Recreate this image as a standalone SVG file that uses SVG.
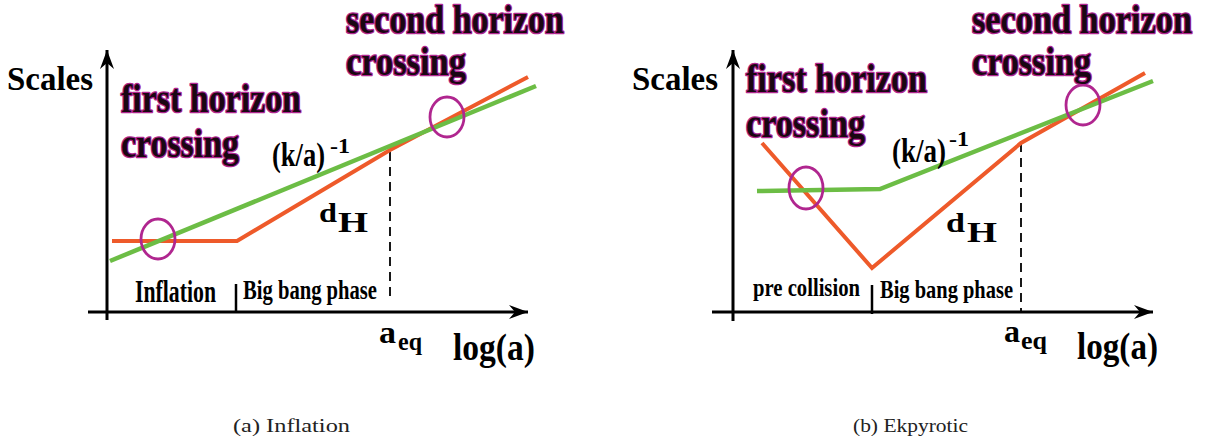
<svg xmlns="http://www.w3.org/2000/svg" width="1207" height="443" viewBox="0 0 1207 443">
<style>
.ax{stroke:#000;stroke-width:3;fill:none}
.tk{stroke:#000;stroke-width:2.5;fill:none}
.dash{stroke:#000;stroke-width:1.8;stroke-dasharray:9 6;fill:none}
.or{stroke:#ee5a2a;stroke-width:4;fill:none;stroke-linejoin:miter}
.gr{stroke:#6cbd45;stroke-width:4.5;fill:none}
.ring{stroke:#b0268f;stroke-width:2.8;fill:none}
.t{font-weight:bold;fill:#000}
.hz{font-weight:bold;fill:#1a0612;stroke:#b0268f;stroke-width:2.6;paint-order:stroke;stroke-linejoin:round}
.cap{font-size:18px;fill:#222}
</style>
<defs>
<marker id="ah" viewBox="-20 -8 22 16" markerWidth="22" markerHeight="16" refX="0" refY="0" orient="auto" markerUnits="userSpaceOnUse">
<path d="M0,0 L-19,-7 L-13,0 L-19,7 Z" fill="#000"/>
</marker>
</defs>
<rect width="1207" height="443" fill="#fff"/>
<g font-family="Liberation Serif, Times New Roman, serif">
<!-- ===== Panel (a) Inflation ===== -->
<g id="panel-a">
<g id="a-axes">
<line class="ax" x1="107" y1="320" x2="107" y2="50" marker-end="url(#ah)"/>
<line class="ax" x1="88" y1="312" x2="528" y2="312" marker-end="url(#ah)"/>
<line class="tk" x1="236" y1="284" x2="236" y2="313"/>
</g>
<g id="a-connectors">
<line class="dash" x1="390" y1="152" x2="390" y2="300"/>
<polyline class="or" points="112,241 237,241 390,150 528,77"/>
<line class="gr" x1="110" y1="261" x2="536" y2="86"/>
</g>
<g id="a-ring1"><ellipse class="ring" cx="158" cy="239" rx="17" ry="20"/></g>
<g id="a-ring2"><ellipse class="ring" cx="447" cy="117" rx="17" ry="20"/></g>
<g id="a-scales"><text class="t" x="7" y="90" font-size="34" textLength="86" lengthAdjust="spacingAndGlyphs">Scales</text></g>
<g id="a-first">
<text class="hz" x="121" y="112" font-size="39" textLength="180" lengthAdjust="spacingAndGlyphs">first horizon</text>
<text class="hz" x="121" y="157" font-size="39" textLength="118" lengthAdjust="spacingAndGlyphs">crossing</text>
</g>
<g id="a-second">
<text class="hz" x="346" y="33" font-size="39" textLength="218" lengthAdjust="spacingAndGlyphs">second horizon</text>
<text class="hz" x="346" y="75" font-size="39" textLength="120" lengthAdjust="spacingAndGlyphs">crossing</text>
</g>
<g id="a-ka">
<text class="t" x="272" y="166" font-size="33" textLength="53" lengthAdjust="spacingAndGlyphs">(k/a)</text>
<text class="t" x="330" y="153" font-size="21" textLength="20" lengthAdjust="spacingAndGlyphs">-1</text>
</g>
<g id="a-dh">
<text class="t" x="319" y="222" font-size="27" textLength="18" lengthAdjust="spacingAndGlyphs">d</text>
<text class="t" x="338" y="232" font-size="29" textLength="30" lengthAdjust="spacingAndGlyphs">H</text>
</g>
<g id="a-inflation"><text class="t" x="135" y="302" font-size="31" textLength="81" lengthAdjust="spacingAndGlyphs">Inflation</text></g>
<g id="a-bigbang"><text class="t" x="243" y="299" font-size="27" textLength="134" lengthAdjust="spacingAndGlyphs">Big bang phase</text></g>
<g id="a-aeq">
<text class="t" x="379" y="343" font-size="32" textLength="17" lengthAdjust="spacingAndGlyphs">a</text>
<text class="t" x="398" y="350" font-size="26" textLength="24" lengthAdjust="spacingAndGlyphs">eq</text>
</g>
<g id="a-loga"><text class="t" x="453" y="360" font-size="37" textLength="82" lengthAdjust="spacingAndGlyphs">log(a)</text></g>
<g id="a-caption"><text class="cap" x="233" y="432" textLength="117" lengthAdjust="spacingAndGlyphs">(a) Inflation</text></g>
</g>

<!-- ===== Panel (b) Ekpyrotic ===== -->
<g id="panel-b">
<g id="b-axes">
<line class="ax" x1="733" y1="321" x2="733" y2="50" marker-end="url(#ah)"/>
<line class="ax" x1="712" y1="312" x2="1153" y2="312" marker-end="url(#ah)"/>
<line class="tk" x1="872" y1="285" x2="872" y2="314"/>
</g>
<g id="b-connectors">
<line class="dash" x1="1021" y1="143" x2="1021" y2="312"/>
<polyline class="or" points="762,143 872,268 1021,143 1145,73"/>
<polyline class="gr" points="757,191 880,189 1153,81"/>
</g>
<g id="b-ring1"><ellipse class="ring" cx="806" cy="188" rx="17" ry="21"/></g>
<g id="b-ring2"><ellipse class="ring" cx="1083" cy="105" rx="17" ry="20"/></g>
<g id="b-scales"><text class="t" x="632" y="90" font-size="34" textLength="86" lengthAdjust="spacingAndGlyphs">Scales</text></g>
<g id="b-first">
<text class="hz" x="746" y="92" font-size="39" textLength="181" lengthAdjust="spacingAndGlyphs">first horizon</text>
<text class="hz" x="746" y="137" font-size="39" textLength="119" lengthAdjust="spacingAndGlyphs">crossing</text>
</g>
<g id="b-second">
<text class="hz" x="972" y="33" font-size="39" textLength="220" lengthAdjust="spacingAndGlyphs">second horizon</text>
<text class="hz" x="972" y="75" font-size="39" textLength="119" lengthAdjust="spacingAndGlyphs">crossing</text>
</g>
<g id="b-ka">
<text class="t" x="892" y="162" font-size="33" textLength="54" lengthAdjust="spacingAndGlyphs">(k/a)</text>
<text class="t" x="949" y="146" font-size="21" textLength="20" lengthAdjust="spacingAndGlyphs">-1</text>
</g>
<g id="b-dh">
<text class="t" x="946" y="232" font-size="27" textLength="19" lengthAdjust="spacingAndGlyphs">d</text>
<text class="t" x="967" y="242" font-size="29" textLength="30" lengthAdjust="spacingAndGlyphs">H</text>
</g>
<g id="b-precollision"><text class="t" x="753" y="296" font-size="26" textLength="107" lengthAdjust="spacingAndGlyphs">pre collision</text></g>
<g id="b-bigbang"><text class="t" x="880" y="298" font-size="26" textLength="133" lengthAdjust="spacingAndGlyphs">Big bang phase</text></g>
<g id="b-aeq">
<text class="t" x="1004" y="342" font-size="32" textLength="16" lengthAdjust="spacingAndGlyphs">a</text>
<text class="t" x="1021" y="349" font-size="26" textLength="26" lengthAdjust="spacingAndGlyphs">eq</text>
</g>
<g id="b-loga"><text class="t" x="1077" y="359" font-size="37" textLength="81" lengthAdjust="spacingAndGlyphs">log(a)</text></g>
<g id="b-caption"><text class="cap" x="853" y="432" textLength="115" lengthAdjust="spacingAndGlyphs">(b) Ekpyrotic</text></g>
</g>
</g>
</svg>
